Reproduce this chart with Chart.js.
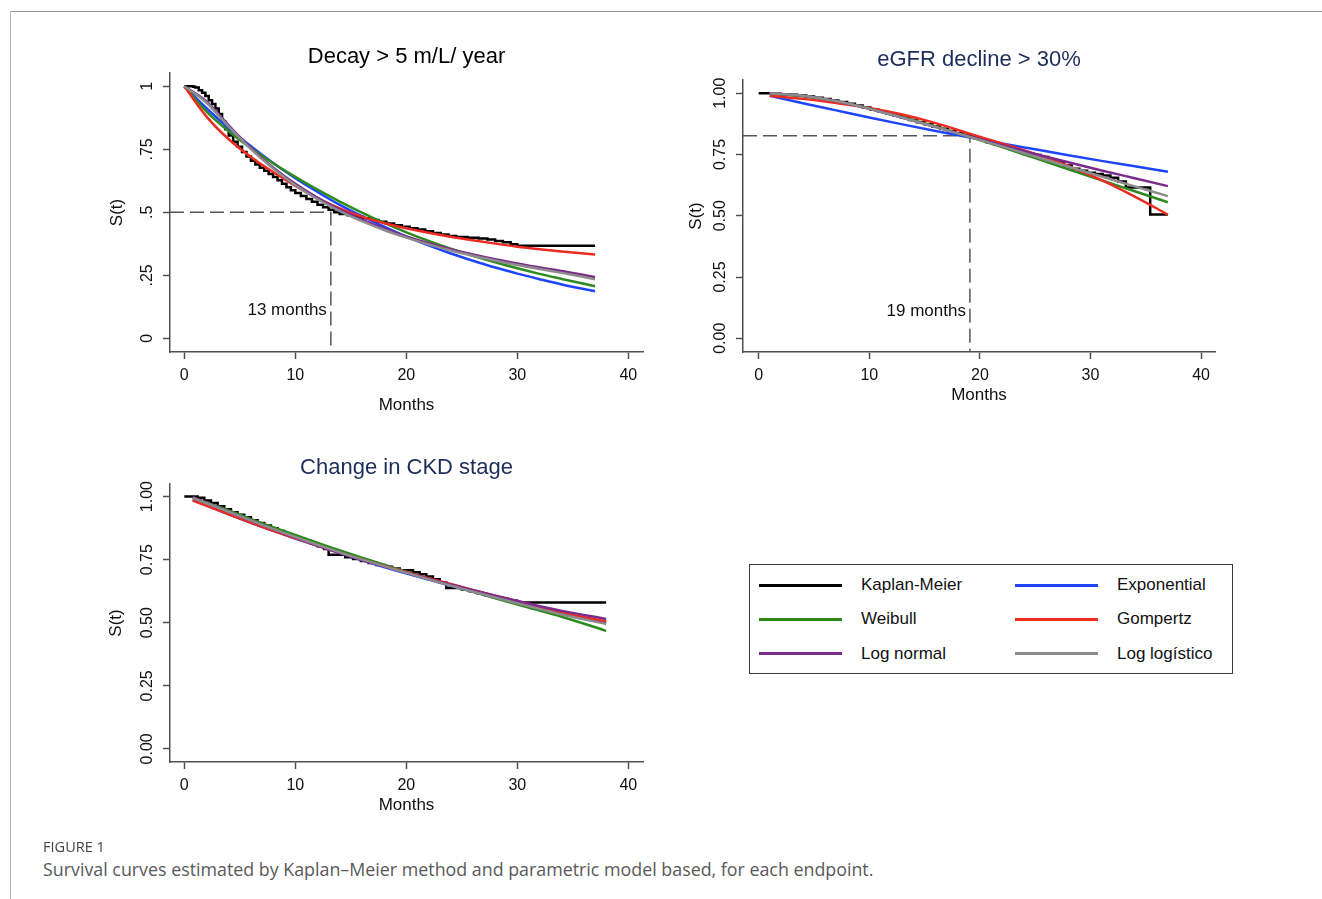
<!DOCTYPE html>
<html><head><meta charset="utf-8">
<script src="https://cdn.jsdelivr.net/npm/chart.js@4.4.1/dist/chart.umd.min.js"></script>
<style>
html,body{margin:0;padding:0;background:#fff}
body{position:relative;width:1322px;height:899px;overflow:hidden;font-family:'Liberation Sans',Arial,Helvetica,sans-serif}
.abs{position:absolute}
canvas.abs{display:block}
#frameTop{left:10px;top:11px;width:1312px;height:1px;background:#9a9a9a}
#frameLeft{left:10px;top:11px;width:1px;height:888px;background:#b5b5b5}
#legendBox{left:749px;top:564px;width:482px;height:108px;border:1px solid #3a3a3a}
.legLine{position:absolute;height:3px;width:83px}
.legText{position:absolute;font-size:17px;color:#111;white-space:nowrap;line-height:20px}
#figLabel{left:43px;top:838px;font-family:'Open Sans',sans-serif;font-size:13px;color:#444;white-space:nowrap;line-height:16px}
#caption{left:43px;top:858px;font-family:'Open Sans',sans-serif;font-size:16px;color:#595959;white-space:nowrap;line-height:22px}
</style></head><body>
<div id="frameTop" class="abs"></div><div id="frameLeft" class="abs"></div>
<canvas id="c1" class="abs"></canvas><canvas id="c2" class="abs"></canvas><canvas id="c3" class="abs"></canvas>
<div id="legendBox" class="abs"></div>
<div id="legend"></div>
<div id="figLabel" class="abs">FIGURE 1</div>
<div id="caption" class="abs">Survival curves estimated by Kaplan–Meier method and parametric model based, for each endpoint.</div>
<script>
// ================= DATA =================
const seriesNames = ['Kaplan-Meier','Exponential','Weibull','Gompertz','Log normal','Log logístico'];
const chartTitles = ['Decay > 5 m/L/ year','eGFR decline > 30%','Change in CKD stage'];
const xTickValues = [0, 10, 20, 30, 40];
const yTickValues = [0, 0.25, 0.5, 0.75, 1];
const yTickLabels1 = ['0', '.25', '.5', '.75', '1'];
const yTickLabels23 = ['0.00', '0.25', '0.50', '0.75', '1.00'];
const xAxisTitle = 'Months';
const yAxisTitle = 'S(t)';
const medianMonths = [13.2, 19.1];
const medianSurv = [0.5, 0.827];
const medianLabels = ['13 months', '19 months'];

// Panel 1: Decay > 5 m/L/ year
const km1Months = [0,0.5,0.8,1.0,1.3,1.6,1.9,2.2,2.5,2.8,3.1,3.4,3.7,4.0,4.4,4.8,5.2,5.6,6.0,6.4,6.8,7.2,7.6,8.0,8.4,8.8,9.2,9.6,10.0,10.5,11.0,11.5,12.0,12.5,13.0,13.5,14.0,14.7,15.4,16.1,16.8,17.5,18.2,18.9,19.6,20.3,21.0,21.7,22.4,23.1,23.8,24.5,25.5,26.5,27.3,28.0,28.7,29.4,30.0,37.0];
const km1Surv   = [1,1,0.998,0.995,0.985,0.975,0.962,0.945,0.93,0.912,0.89,0.86,0.83,0.805,0.78,0.76,0.74,0.722,0.705,0.69,0.677,0.665,0.652,0.64,0.627,0.614,0.6,0.588,0.577,0.565,0.553,0.542,0.53,0.52,0.51,0.5,0.494,0.489,0.483,0.477,0.47,0.463,0.456,0.449,0.443,0.437,0.432,0.425,0.418,0.412,0.406,0.402,0.399,0.396,0.392,0.386,0.381,0.374,0.368,0.368];
const fit1Months = [0,2,4,6,8,10,12,14,16,18,20,22,24,26,28,30,32,34,37];
const exp1   = [1,0.913,0.834,0.762,0.696,0.636,0.581,0.530,0.485,0.443,0.404,0.369,0.337,0.308,0.281,0.257,0.235,0.214,0.187];
const weib1  = [1,0.9,0.822,0.755,0.695,0.641,0.590,0.543,0.499,0.458,0.421,0.387,0.356,0.328,0.302,0.278,0.256,0.236,0.207];
const gomp1  = [1,0.88,0.79,0.72,0.66,0.605,0.557,0.516,0.483,0.457,0.437,0.419,0.403,0.389,0.376,0.364,0.354,0.345,0.333];
const lnorm1 = [1,0.94,0.845,0.755,0.678,0.613,0.558,0.511,0.471,0.436,0.405,0.378,0.354,0.333,0.314,0.297,0.281,0.267,0.243];
const llog1  = [1,0.935,0.84,0.751,0.674,0.608,0.552,0.505,0.465,0.43,0.4,0.373,0.349,0.328,0.309,0.291,0.275,0.26,0.235];

// Panel 2: eGFR decline > 30%
const km2Months = [0,1.2,2.0,2.8,3.5,4.3,5.0,5.8,6.5,7.2,8.0,8.7,9.4,10.1,10.8,11.5,12.2,12.9,13.6,14.3,15.0,15.7,16.4,17.1,17.8,18.5,19.2,19.9,20.6,21.3,22.0,22.7,23.4,24.1,24.8,25.5,26.2,26.9,27.6,28.3,29.0,29.7,30.4,31.1,31.8,32.5,33.2,35.4,37];
const km2Surv   = [1,0.998,0.996,0.994,0.991,0.987,0.982,0.976,0.97,0.964,0.957,0.95,0.942,0.934,0.926,0.918,0.909,0.9,0.891,0.882,0.873,0.864,0.855,0.846,0.837,0.828,0.819,0.81,0.8,0.791,0.782,0.772,0.763,0.755,0.748,0.74,0.73,0.718,0.705,0.692,0.684,0.676,0.67,0.664,0.655,0.64,0.615,0.505,0.505];
const fit2Months = [1,4,7,10,13,16,19,22,25,28,31,34,37];
const exp2   = [0.99,0.959,0.93,0.901,0.873,0.846,0.82,0.795,0.771,0.747,0.724,0.702,0.68];
const weib2  = [0.998,0.988,0.967,0.938,0.903,0.864,0.823,0.78,0.735,0.69,0.645,0.6,0.555];
const gomp2  = [0.99,0.977,0.96,0.94,0.913,0.878,0.836,0.795,0.752,0.703,0.645,0.578,0.505];
const lnorm2 = [1.0,0.99,0.968,0.937,0.9,0.862,0.825,0.788,0.752,0.718,0.685,0.653,0.621];
const llog2  = [1.0,0.99,0.968,0.937,0.9,0.862,0.823,0.783,0.742,0.70,0.66,0.62,0.58];

// Panel 3: Change in CKD stage
const km3Months = [0,1.2,1.8,2.4,3.0,3.6,4.2,4.8,5.4,6.0,6.6,7.2,7.8,8.4,9.0,9.6,10.2,10.8,11.4,12.0,12.6,13.0,14.5,15.2,15.9,16.6,17.3,18.0,18.7,19.4,20.6,21.2,21.8,22.4,23.0,23.6,25.0,25.7,26.4,27.1,27.8,28.5,29.2,30.0,38];
const km3Surv   = [1,0.995,0.985,0.975,0.962,0.95,0.938,0.928,0.918,0.906,0.895,0.885,0.875,0.864,0.85,0.843,0.834,0.825,0.814,0.803,0.792,0.77,0.76,0.753,0.745,0.737,0.729,0.722,0.715,0.708,0.7,0.692,0.683,0.672,0.66,0.638,0.632,0.625,0.617,0.609,0.601,0.594,0.587,0.58,0.58];
const fit3Months = [0.75,4,7,10,13,16,19,22,25,28,31,34,38];
const exp3   = [0.987,0.93,0.88,0.834,0.79,0.748,0.708,0.671,0.635,0.601,0.569,0.538,0.5];
const weib3  = [0.995,0.945,0.895,0.848,0.802,0.758,0.716,0.675,0.636,0.597,0.56,0.524,0.468];
const gomp3  = [0.984,0.93,0.88,0.835,0.791,0.75,0.713,0.677,0.642,0.607,0.574,0.541,0.505];
const lnorm3 = [0.998,0.94,0.888,0.838,0.792,0.75,0.711,0.674,0.64,0.607,0.576,0.547,0.515];
const llog3  = [0.995,0.94,0.888,0.84,0.794,0.751,0.711,0.672,0.635,0.6,0.566,0.533,0.495];

// ================= STYLE / LAYOUT =================
const seriesColors = ['#000000','#1f44ff','#2e8a1e','#ee2b20','#7b2b8c','#8c8c8c'];
const axisColor = '#505050';
const textColor = '#111111';
const FONT = "'Liberation Sans', Arial, Helvetica, sans-serif";
Chart.defaults.font.family = FONT;

const panels = [
  {canvas:'c1', title:chartTitles[0], titleColor:'#000000', area:{l:170,r:643,t:73,b:352}, xr:[-1.29,41.32], yr:[-0.054,1.053],
   titleY:57, xTitleY:405, yTitleX:117.3, yLabels:yTickLabels1,
   km:[km1Months,km1Surv], fitT:fit1Months, fits:[exp1,weib1,gomp1,lnorm1,llog1], median:0, noteLevel:0.11},
  {canvas:'c2', title:chartTitles[1], titleColor:'#1c2d5a', area:{l:743,r:1215,t:80,b:352}, xr:[-1.42,41.26], yr:[-0.056,1.054],
   titleY:60, xTitleY:395, yTitleX:696, yLabels:yTickLabels23,
   km:[km2Months,km2Surv], fitT:fit2Months, fits:[exp2,weib2,gomp2,lnorm2,llog2], median:1, noteLevel:0.111},
  {canvas:'c3', title:chartTitles[2], titleColor:'#1c2d5a', area:{l:170,r:643,t:484,b:762}, xr:[-1.29,41.32], yr:[-0.052,1.05],
   titleY:468, xTitleY:805, yTitleX:116.6, yLabels:yTickLabels23,
   km:[km3Months,km3Surv], fitT:fit3Months, fits:[exp3,weib3,gomp3,lnorm3,llog3], median:null, noteLevel:null}
];

function pts(xs, ys){ return xs.map((x,i)=>({x:x, y:ys[i]})); }

function overlayPlugin(p){
  return {
    id:'overlay_'+p.canvas,
    afterDraw(chart){
      const {ctx, chartArea} = chart;
      const xs = chart.scales.x, ys = chart.scales.y;
      ctx.save();
      ctx.fillStyle = textColor;
      ctx.font = '16px ' + FONT;
      ctx.textAlign = 'center'; ctx.textBaseline = 'middle';
      yTickValues.forEach((v,i)=>{
        const py = ys.getPixelForValue(v);
        ctx.save();
        ctx.translate(chartArea.left - 22, py);
        ctx.rotate(-Math.PI/2);
        ctx.fillText(p.yLabels[i], 0, 0);
        ctx.restore();
      });
      if (p.median !== null){
        ctx.font = '17px ' + FONT;
        ctx.textAlign = 'right';
        ctx.fillText(medianLabels[p.median], xs.getPixelForValue(medianMonths[p.median]) - 4, ys.getPixelForValue(p.noteLevel));
      }
      ctx.restore();
    }
  };
}

function buildChart(p){
  const left = p.area.l - 90, top = p.area.t - 45;
  const W = p.area.r - left + 10, H = p.area.b + 75 - top;
  const cv = document.getElementById(p.canvas);
  cv.width = W; cv.height = H;
  cv.style.left = left + 'px'; cv.style.top = top + 'px';
  cv.style.width = W + 'px'; cv.style.height = H + 'px';

  const datasets = [];
  if (p.median !== null){
    const mt = medianMonths[p.median], ms = medianSurv[p.median];
    datasets.push({label:'median', data:[{x:p.xr[0], y:ms},{x:mt, y:ms},{x:mt, y:p.yr[0]}],
      borderColor:'#555555', borderWidth:1.5, borderDash:[14,6], pointRadius:0, tension:0, order:7});
  }
  datasets.push({label:seriesNames[0], data:pts(p.km[0], p.km[1]), borderColor:seriesColors[0], borderWidth:2.5,
    pointRadius:0, stepped:true, order:6});
  p.fits.forEach((arr, k)=>{
    datasets.push({label:seriesNames[k+1], data:pts(p.fitT, arr), borderColor:seriesColors[k+1], borderWidth:2.5,
      pointRadius:0, cubicInterpolationMode:'monotone', order:5-k});
  });

  new Chart(cv, {
    type:'line',
    data:{datasets},
    options:{
      responsive:false, animation:false, devicePixelRatio:1,
      layout:{padding:{left:0, right:10, top:0, bottom:0}},
      plugins:{
        legend:{display:false}, tooltip:{enabled:false},
        title:{display:true, text:p.title, fullSize:false, color:p.titleColor,
          font:{size:22, weight:'normal', family:FONT},
          padding:{top:p.titleY - 13.2 - top, bottom:p.area.t - p.titleY - 13.2}}
      },
      scales:{
        x:{type:'linear', min:p.xr[0], max:p.xr[1],
          afterBuildTicks:s=>{ s.ticks = xTickValues.map(v=>({value:v})); },
          afterFit:s=>{ s.height = 75; },
          grid:{drawOnChartArea:false, drawTicks:true, tickLength:7, tickColor:axisColor, tickWidth:1.5},
          border:{display:true, color:axisColor, width:1.5},
          ticks:{padding:7, color:textColor, font:{size:16}, maxRotation:0, autoSkip:false},
          title:{display:true, text:xAxisTitle, color:textColor, font:{size:17},
            padding:{top:0, bottom:p.area.b + 75 - 10.2 - p.xTitleY}}},
        y:{type:'linear', min:p.yr[0], max:p.yr[1],
          afterBuildTicks:s=>{ s.ticks = yTickValues.map(v=>({value:v})); },
          afterFit:s=>{ s.width = 90; },
          grid:{drawOnChartArea:false, drawTicks:true, tickLength:7, tickColor:axisColor, tickWidth:1.5},
          border:{display:true, color:axisColor, width:1.5},
          ticks:{display:false},
          title:{display:true, text:yAxisTitle, color:textColor, font:{size:17},
            padding:{top:p.yTitleX - left - 10.2, bottom:0}}}
      }
    },
    plugins:[overlayPlugin(p)]
  });
}

panels.forEach(buildChart);

// ----- shared legend -----
const legend = document.getElementById('legend');
const rowY = [585, 619, 653.5];
seriesNames.forEach((name, i)=>{
  const col = i % 2, row = Math.floor(i/2);
  const ln = document.createElement('div');
  ln.className = 'legLine';
  ln.style.left = (col ? 1015 : 759) + 'px';
  ln.style.top = (rowY[row] - 1.5) + 'px';
  ln.style.background = seriesColors[i];
  legend.appendChild(ln);
  const tx = document.createElement('div');
  tx.className = 'legText';
  tx.style.left = (col ? 1117 : 861) + 'px';
  tx.style.top = (rowY[row] - 10) + 'px';
  tx.textContent = name;
  legend.appendChild(tx);
});

// ----- caption sizing -----
function fitWidth(el, target, centerY){
  const w = el.getBoundingClientRect().width;
  const fs = parseFloat(getComputedStyle(el).fontSize);
  el.style.fontSize = (fs * target / w) + 'px';
  const h = el.getBoundingClientRect().height;
  el.style.top = (centerY - h/2) + 'px';
}
fitWidth(document.getElementById('figLabel'), 62, 846);
fitWidth(document.getElementById('caption'), 831, 869);
</script>
</body></html>
